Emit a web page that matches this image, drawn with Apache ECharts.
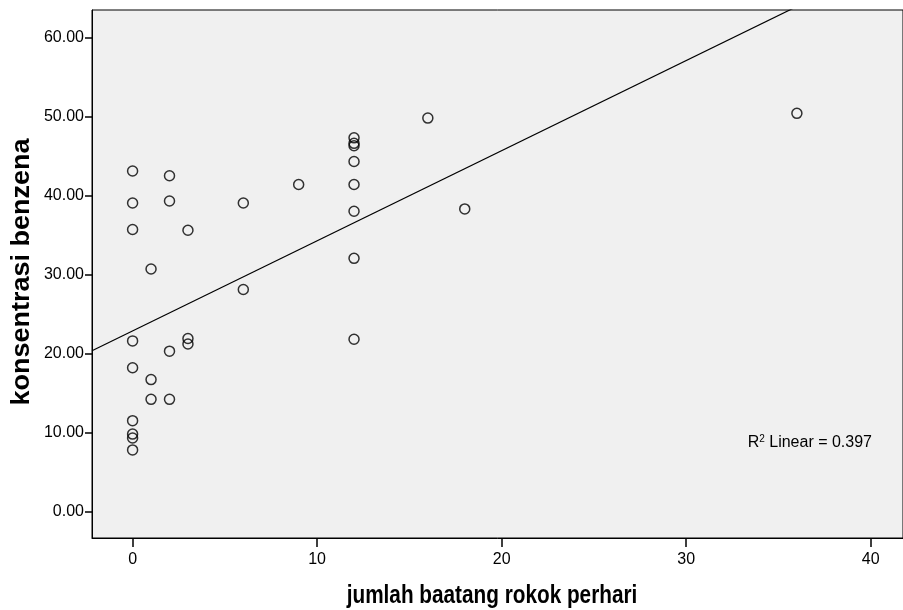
<!DOCTYPE html>
<html>
<head>
<meta charset="utf-8">
<script src="https://cdn.jsdelivr.net/npm/echarts@6/dist/echarts.min.js"></script>
<style>
  html, body { margin: 0; padding: 0; background: #ffffff; }
  #chart { width: 903px; height: 610px; }
</style>
</head>
<body>
<div id="chart"></div>
<script>
// Cigarettes smoked per day vs. benzene concentration
const cigarettesPerDay = [
  0, 0, 0, 0, 0, 0, 0, 0, 0,
  1, 1, 1,
  2, 2, 2, 2,
  3, 3, 3,
  6, 6,
  9,
  12, 12, 12, 12, 12, 12, 12, 12,
  16, 18, 36
];
const benzene = [
  43.1, 39.05, 35.7, 21.6, 18.2, 11.5, 9.8, 9.3, 7.8,
  30.7, 16.7, 14.2,
  42.5, 39.3, 20.3, 14.2,
  35.6, 21.9, 21.2,
  39.05, 28.1,
  41.4,
  47.3, 46.6, 46.3, 44.3, 41.4, 38.0, 32.05, 21.8,
  49.8, 38.3, 50.4
];

// Linear fit line (intercept, slope) and its R squared
const fitIntercept = 22.85;
const fitSlope = 1.141;
const rSquared = 0.397;

const xTicks = [0, 10, 20, 30, 40];
const yTicks = [0, 10, 20, 30, 40, 50, 60];

const xTitle = 'jumlah baatang rokok perhari';
const yTitle = 'konsentrasi benzena';

const xMin = -2.2, xMax = 41.75;
const yMin = -3.35, yMax = 63.48;

const points = cigarettesPerDay.map((x, i) => [x, benzene[i]]);
const fitLine = [
  [xMin, fitIntercept + fitSlope * xMin],
  [xMax, fitIntercept + fitSlope * xMax]
];

const baseFont = '"Liberation Sans", Arial, sans-serif';
const titleStyle = {
  fontFamily: baseFont,
  fontWeight: 'bold',
  fontSize: 25,
  fill: '#000',
  align: 'center',
  verticalAlign: 'middle'
};

const chart = echarts.init(document.getElementById('chart'), null, { renderer: 'canvas' });

chart.setOption({
  animation: false,
  backgroundColor: '#ffffff',
  grid: {
    left: 92, top: 10, right: -2, bottom: 72,
    show: true,
    backgroundColor: '#f0f0f0',
    borderColor: '#000000',
    borderWidth: 1
  },
  xAxis: {
    type: 'value',
    min: xMin, max: xMax,
    splitLine: { show: false },
    axisLine: { show: true, onZero: false, lineStyle: { color: '#000', width: 1 } },
    axisTick: { show: true, customValues: xTicks, length: 9, lineStyle: { color: '#000', width: 1.5 } },
    axisLabel: {
      customValues: xTicks,
      color: '#000',
      fontFamily: baseFont,
      fontSize: 16,
      margin: 14,
      formatter: v => String(v)
    }
  },
  yAxis: {
    type: 'value',
    min: yMin, max: yMax,
    splitLine: { show: false },
    axisLine: { show: true, onZero: false, lineStyle: { color: '#000', width: 1 } },
    axisTick: { show: true, customValues: yTicks, length: 7, lineStyle: { color: '#000', width: 1.5 } },
    axisLabel: {
      customValues: yTicks,
      color: '#000',
      fontFamily: baseFont,
      fontSize: 16,
      margin: 8,
      formatter: v => v.toFixed(2)
    }
  },
  series: [
    {
      type: 'line',
      data: fitLine,
      symbol: 'none',
      clip: true,
      silent: true,
      lineStyle: { color: '#000', width: 1.2 },
      z: 2
    },
    {
      type: 'scatter',
      data: points,
      symbol: 'circle',
      symbolSize: 10,
      itemStyle: { color: 'rgba(0,0,0,0)', borderColor: '#000', borderWidth: 1.5 },
      z: 3
    }
  ],
  graphic: [
    {
      // x-axis title, condensed bold
      type: 'text',
      x: 492, y: 596,
      scaleX: 0.83,
      style: Object.assign({ text: xTitle }, titleStyle)
    },
    {
      // y-axis title, rotated
      type: 'text',
      x: 22, y: 272,
      rotation: Math.PI / 2,
      scaleX: 1.08,
      style: Object.assign({ text: yTitle }, titleStyle)
    },
    {
      type: 'text',
      right: 31,
      top: 434,
      style: {
        text: '{base|R}{sup|2}{base| Linear = ' + rSquared.toFixed(3) + '}',
        rich: {
          base: { fontFamily: baseFont, fontSize: 16, fill: '#000', verticalAlign: 'bottom' },
          sup: { fontFamily: baseFont, fontSize: 10, fill: '#000', verticalAlign: 'top', padding: [0, 0, 7, 0] }
        }
      }
    }
  ]
});
</script>
</body>
</html>
